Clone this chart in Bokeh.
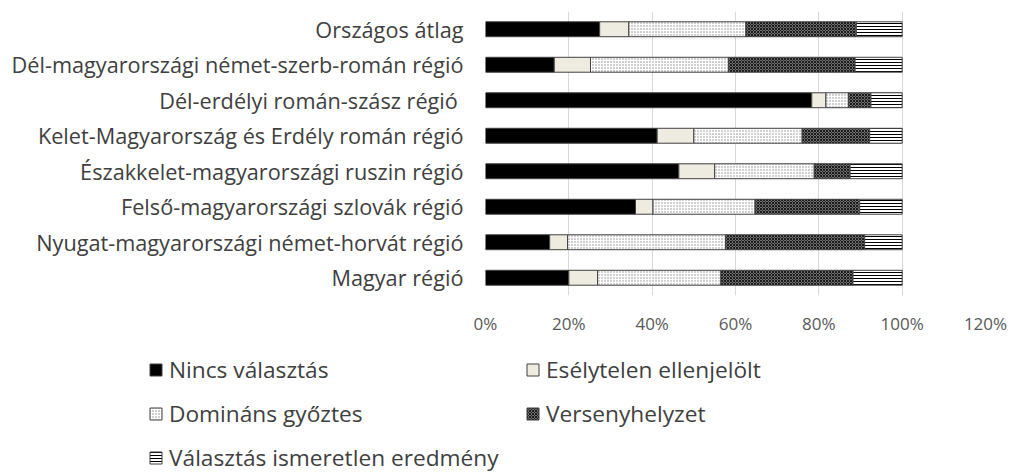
from bokeh.plotting import figure
from bokeh.models import (ColumnDataSource, FactorRange, Range1d, FixedTicker,
                          PrintfTickFormatter, Legend, LegendItem)
from bokeh.layouts import column
from bokeh.embed import file_html
from bokeh.resources import INLINE
import numpy as np

# ---- data (top-to-bottom order as in the chart) ----
regions = [
    "Országos átlag",
    "Dél-magyarországi német-szerb-román régió",
    "Dél-erdélyi román-szász  régió",
    "Kelet-Magyarország és Erdély román régió",
    "Északkelet-magyarországi ruszin régió",
    "Felső-magyarországi szlovák régió",
    "Nyugat-magyarországi német-horvát régió",
    "Magyar régió",
]
series = ["Nincs választás", "Esélytelen ellenjelölt", "Domináns győztes",
          "Versenyhelyzet", "Választás ismeretlen eredmény"]
nincs      = [27.4, 16.5, 78.3, 41.2, 46.4, 36.0, 15.4, 20.0]
eselytelen = [7.0,  8.7,  3.4,  8.8,  8.6,  4.2,  4.3,  6.9]
dominans   = [28.1, 33.1, 5.4,  26.0, 23.9, 24.5, 37.9, 29.6]
verseny    = [26.5, 30.4, 5.4,  16.2, 8.6,  25.1, 33.4, 31.7]
ismeretlen = [11.0, 11.3, 7.5,  7.8,  12.5, 10.2, 9.0,  11.8]
x_ticks = [0, 20, 40, 60, 80, 100, 120]

values = [nincs, eselytelen, dominans, verseny, ismeretlen]

styles = [
    dict(fill_color="#000000"),
    dict(fill_color="#EEECE1"),
    dict(fill_color="#FFFFFF", hatch_pattern="dot", hatch_color="#8a8a8a",
         hatch_scale=3, hatch_weight=1),
    dict(fill_color="#707070", hatch_pattern="diagonal_cross", hatch_color="#1a1a1a",
         hatch_scale=3, hatch_weight=1),
    dict(fill_color="#FFFFFF", hatch_pattern="horizontal_line", hatch_color="#000000",
         hatch_scale=3, hatch_weight=1),
]

FONT = "Open Sans"
W = 1010

p = figure(width=W, height=340, output_backend="svg", toolbar_location=None,
           y_range=FactorRange(factors=list(reversed(regions))),
           x_range=Range1d(0, 120),
           min_border_left=485, min_border_right=25, min_border_top=11,
           min_border_bottom=45)
p.outline_line_color = None
p.background_fill_color = "white"
p.border_fill_color = "white"

left = np.zeros(len(regions))
for vals, st in zip(values, styles):
    v = np.array(vals)
    src = ColumnDataSource(dict(y=regions, left=left.copy(), right=left + v))
    p.hbar(y="y", left="left", right="right", height=0.42, source=src,
           line_color="#404040", line_width=1, **st)
    left = left + v

p.xaxis.ticker = FixedTicker(ticks=x_ticks)
p.xaxis.formatter = PrintfTickFormatter(format="%d%%")
p.xaxis.axis_line_color = None
p.xaxis.major_tick_line_color = None
p.xaxis.minor_tick_line_color = None
p.xaxis.major_label_standoff = 10
p.xaxis.major_label_text_font = FONT
p.xaxis.major_label_text_font_size = "17px"
p.xaxis.major_label_text_color = "#595959"

p.yaxis.axis_line_color = None
p.yaxis.major_tick_line_color = None
p.yaxis.minor_tick_line_color = None
p.yaxis.major_label_standoff = 16
p.yaxis.major_label_text_font = FONT
p.yaxis.major_label_text_font_size = "21.7px"
p.yaxis.major_label_text_color = "#404040"

p.ygrid.grid_line_color = None
p.xgrid.ticker = FixedTicker(ticks=x_ticks)
p.xgrid.grid_line_color = "#d9d9d9"
p.xgrid.grid_line_width = 1

# ---- legend figure ----
p2 = figure(width=W, height=132, output_backend="svg", toolbar_location=None,
            x_axis_type=None, y_axis_type=None,
            x_range=Range1d(0, 1), y_range=Range1d(0, 1),
            min_border_left=0, min_border_right=0, min_border_top=0,
            min_border_bottom=0, frame_align=False)
p2.outline_line_color = None
p2.xgrid.grid_line_color = None
p2.ygrid.grid_line_color = None
items = []
for name, st in zip(series, styles):
    r = p2.hbar(y=[-5], left=[0], right=[1], height=0.5,
                line_color="#404040", line_width=1, **st)
    items.append(LegendItem(label=name, renderers=[r]))

legend = Legend(items=items, orientation="horizontal", ncols=2,
                location=(148, -7), padding=0, margin=0, spacing=0,
                border_line_color=None, background_fill_alpha=0,
                glyph_width=15, glyph_height=15, label_standoff=6,
                label_width=356, label_height=44,
                label_text_font=FONT, label_text_font_size="22.7px",
                label_text_color="#404040")
p2.add_layout(legend)

layout = column(p, p2, spacing=0)
open("out.html", "w").write(file_html(layout, INLINE))
